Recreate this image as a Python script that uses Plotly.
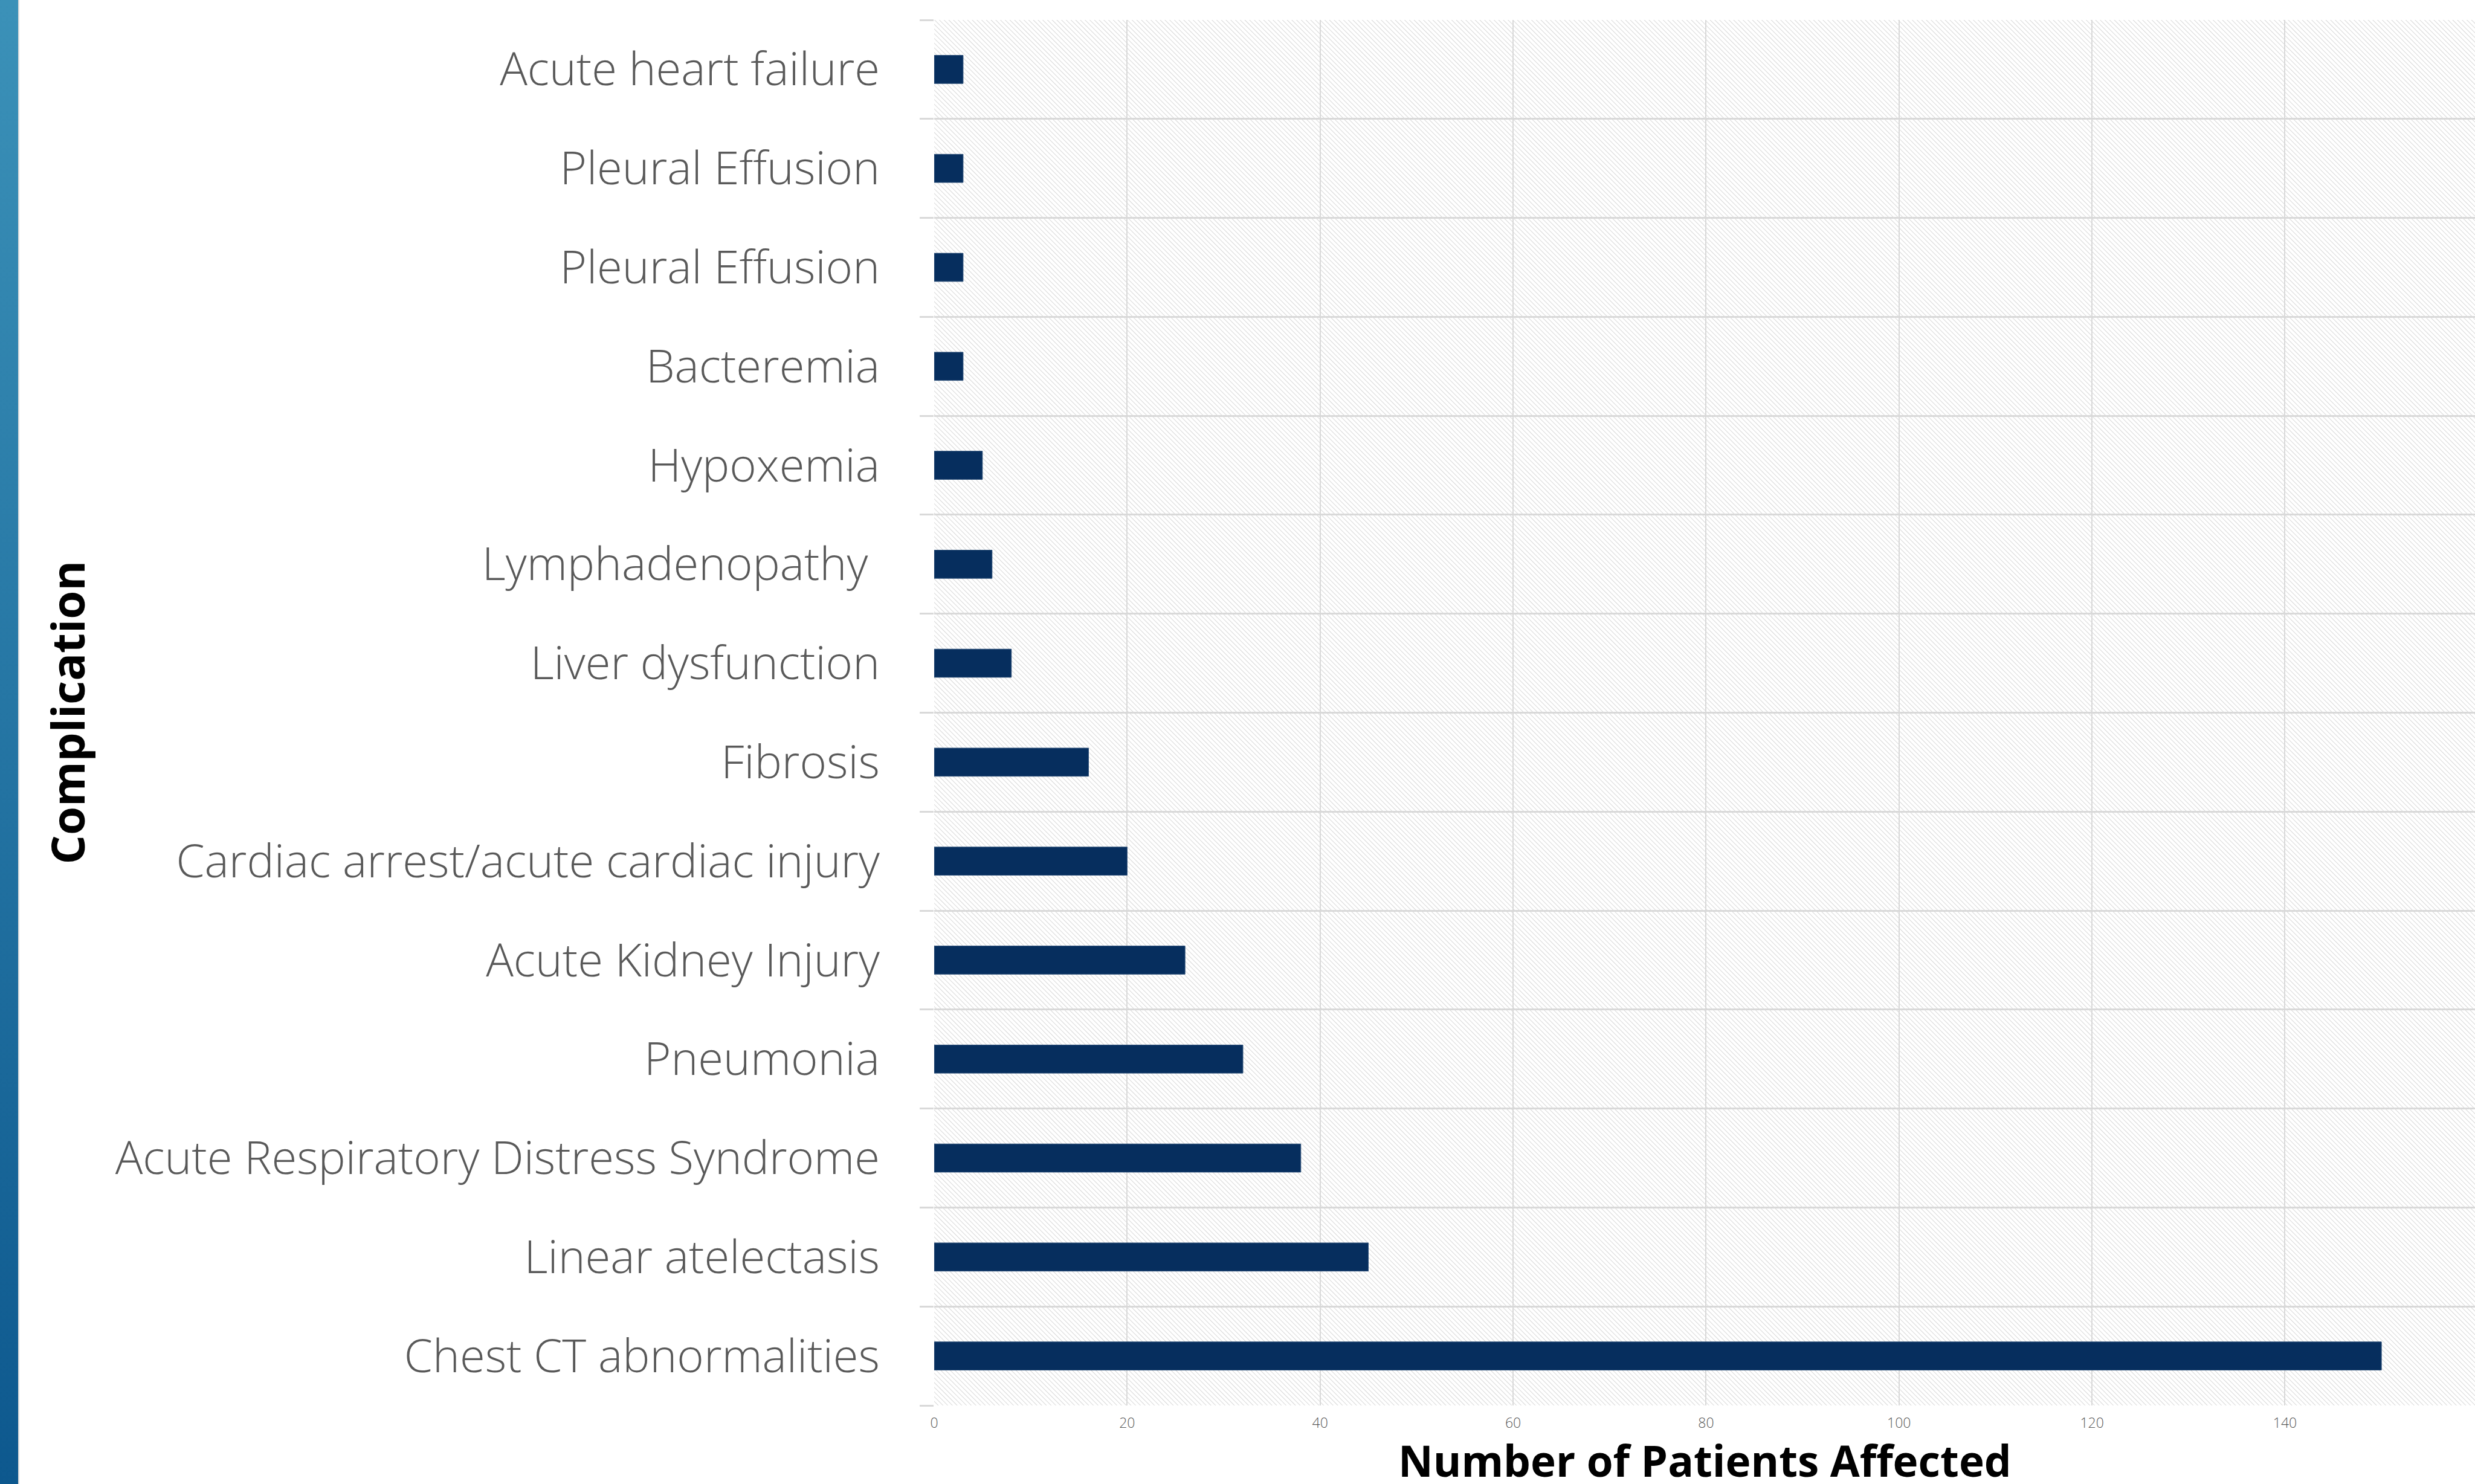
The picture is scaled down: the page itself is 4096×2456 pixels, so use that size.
import base64
import plotly.graph_objects as go

# ---------------- data ----------------
categories = [
    "Chest CT abnormalities",
    "Linear atelectasis",
    "Acute Respiratory Distress Syndrome",
    "Pneumonia",
    "Acute Kidney Injury",
    "Cardiac arrest/acute cardiac injury",
    "Fibrosis",
    "Liver dysfunction",
    "Lymphadenopathy\u00a0",
    "Hypoxemia",
    "Bacteremia",
    "Pleural Effusion",
    "Pleural Effusion\u200b",
    "Acute heart failure",
]
patients = [150, 45, 38, 32, 26, 20, 16, 8, 6, 5, 3, 3, 3, 3]
x_ticks = [0, 20, 40, 60, 80, 100, 120, 140, 160]
x_title = "Number of Patients Affected"
y_title = "Complication"

# ---------------- geometry / style ----------------
W, H = 4096, 2456
ML, MR, MT, MB = 1546, 0, 33, 130
PW, PH = W - ML - MR, H - MT - MB

FONT = "Century Gothic, 'Open Sans', Lato, sans-serif"
GRID = "#d9d9d9"
BAR = "#062e5e"
LABEL = "#595959"


def data_uri(svg):
    return "data:image/svg+xml;base64," + base64.b64encode(svg.encode()).decode()


hatch_svg = (
    f'<svg xmlns="http://www.w3.org/2000/svg" width="{PW}" height="{PH}" viewBox="0 0 {PW} {PH}">'
    '<defs><pattern id="h" width="5.5" height="5.5" patternUnits="userSpaceOnUse" '
    'patternTransform="rotate(-45)">'
    '<rect width="5.5" height="5.5" fill="#ffffff"/>'
    '<line x1="0" y1="0" x2="0" y2="5.5" stroke="#d8d8d8" stroke-width="2.0"/>'
    '</pattern></defs>'
    f'<rect width="{PW}" height="{PH}" fill="url(#h)"/></svg>'
)

band_svg = (
    f'<svg xmlns="http://www.w3.org/2000/svg" width="32" height="{H}" viewBox="0 0 32 {H}">'
    '<defs><linearGradient id="g" x1="0" y1="0" x2="0" y2="1">'
    '<stop offset="0" stop-color="#3b91b8"/><stop offset="1" stop-color="#0d588e"/>'
    '</linearGradient></defs>'
    f'<rect x="0" y="0" width="30" height="{H}" fill="url(#g)"/>'
    f'<rect x="30" y="0" width="2" height="{H}" fill="#dcdcdc"/></svg>'
)

fig = go.Figure()
fig.add_trace(
    go.Bar(
        x=patients,
        y=categories,
        orientation="h",
        width=0.285,
        marker=dict(color=BAR, line=dict(color="#2c4f78", width=1)),
        showlegend=False,
        hoverinfo="x+y",
    )
)

fig.update_layout(
    width=W,
    height=H,
    margin=dict(l=ML, r=MR, t=MT, b=MB, pad=0, autoexpand=False),
    paper_bgcolor="white",
    plot_bgcolor="rgba(0,0,0,0)",
    font=dict(family=FONT, color=LABEL),
    images=[
        dict(
            source=data_uri(hatch_svg),
            xref="paper", yref="paper",
            x=0, y=1, sizex=1, sizey=1,
            xanchor="left", yanchor="top",
            sizing="stretch", layer="below",
        ),
        dict(
            source=data_uri(band_svg),
            xref="paper", yref="paper",
            x=-ML / PW, y=1 + MT / PH, sizex=32 / PW, sizey=H / PH,
            xanchor="left", yanchor="top",
            sizing="stretch", layer="below",
        ),
    ],
    annotations=[
        dict(
            text=y_title,
            xref="paper", yref="paper",
            x=(110 - ML) / PW, y=0.5,
            xanchor="center", yanchor="middle",
            textangle=-90,
            showarrow=False,
            font=dict(family=FONT, size=76, color="black", weight="bold"),
        ),
        dict(
            text=x_title,
            xref="paper", yref="paper",
            x=0.5, y=-90 / PH,
            xanchor="center", yanchor="middle",
            showarrow=False,
            font=dict(family=FONT, size=71, color="black", weight="bold"),
        ),
    ],
    xaxis=dict(
        range=[0, 159.7],
        tickvals=x_ticks,
        showgrid=True,
        gridcolor=GRID,
        gridwidth=2,
        zeroline=False,
        showline=False,
        ticks="",
        automargin=False,
        ticklabelstandoff=13,
        tickfont=dict(family=FONT, size=23, color=LABEL, weight=300),
        fixedrange=True,
    ),
    yaxis=dict(
        type="category",
        categoryorder="array",
        categoryarray=categories,
        range=[-0.5, len(categories) - 0.5],
        tickson="boundaries",
        showgrid=True,
        gridcolor=GRID,
        gridwidth=2.5,
        ticks="outside",
        ticklen=23,
        tickwidth=2.5,
        tickcolor=GRID,
        zeroline=False,
        showline=False,
        automargin=False,
        ticklabelstandoff=89,
        tickfont=dict(family=FONT, size=76, color=LABEL, weight=300),
        fixedrange=True,
    ),
)

fig.write_html(
    "out.html",
    config={"displayModeBar": False},
    post_script="document.body.style.margin='0';document.documentElement.style.overflow='hidden';",
)
